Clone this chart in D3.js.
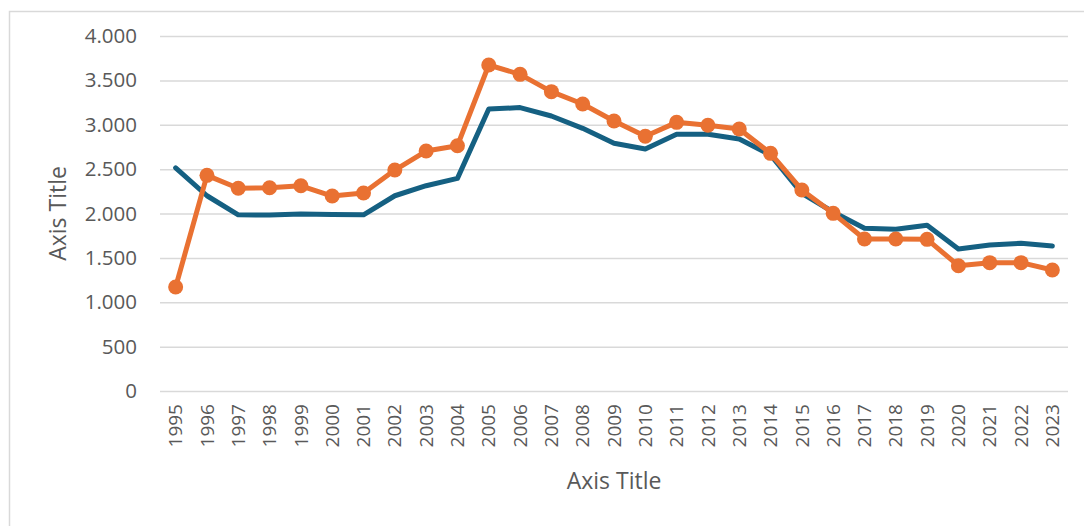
<!DOCTYPE html>
<html>
<head>
<meta charset="utf-8">
<script src="https://cdn.jsdelivr.net/npm/d3@7"></script>
<style>
  body { margin: 0; background: #fff; }
  .chart text { font-family: "Open Sans", sans-serif; fill: #595959; }
</style>
</head>
<body>
<div class="chart"></div>
<script>
// Data
var years = ["1995","1996","1997","1998","1999","2000","2001","2002","2003","2004",
             "2005","2006","2007","2008","2009","2010","2011","2012","2013","2014",
             "2015","2016","2017","2018","2019","2020","2021","2022","2023"];

var blueValues = [2515, 2200, 1985, 1983, 1995, 1990, 1985, 2200, 2313, 2396,
                  3177, 3193, 3099, 2960, 2791, 2727, 2892, 2892, 2839, 2660,
                  2227, 2017, 1833, 1822, 1867, 1600, 1645, 1664, 1634];

var orangeValues = [1172, 2430, 2284, 2290, 2312, 2197, 2231, 2490, 2704, 2764,
                    3673, 3568, 3373, 3234, 3042, 2870, 3027, 2994, 2952, 2678,
                    2265, 2002, 1713, 1713, 1709, 1412, 1446, 1446, 1363];

var yTicks = [0, 500, 1000, 1500, 2000, 2500, 3000, 3500, 4000];

var svgWidth = 1084;
var svgHeight = 526;

var margin = {top: 36, right: 16, bottom: 135, left: 160};
var width = svgWidth - margin.left - margin.right;
var height = svgHeight - margin.top - margin.bottom;

var svg = d3.select(".chart")
    .append("svg")
    .attr("width", svgWidth)
    .attr("height", svgHeight);

// chart border
svg.append("rect")
    .attr("x", 9.5)
    .attr("y", 11.5)
    .attr("width", svgWidth + 20)
    .attr("height", svgHeight + 20)
    .attr("fill", "none")
    .attr("stroke", "#d9d9d9")
    .attr("stroke-width", 1.5);

var chart = svg.append("g")
    .attr("transform", "translate(" + margin.left + "," + margin.top + ")");

var xScale = d3.scaleBand()
    .domain(years)
    .range([0, width]);

var yScale = d3.scaleLinear()
    .domain([0, 4000])
    .range([height, 0]);

var fmt = d3.formatLocale({decimal: ",", thousands: ".", grouping: [3], currency: ["", ""]}).format(",d");

// y axis with gridlines
var leftAxis = d3.axisLeft(yScale)
    .tickValues(yTicks)
    .tickSize(-width)
    .tickPadding(23)
    .tickFormat(fmt);

var yAxis = chart.append("g").call(leftAxis);
yAxis.select(".domain").remove();
yAxis.selectAll("line")
    .attr("stroke", "#d9d9d9")
    .attr("stroke-width", 1.5);
yAxis.selectAll("text")
    .style("font-size", "20.5px");

// x axis labels, rotated
var bottomAxis = d3.axisBottom(xScale).tickSize(0).tickPadding(0);
var xAxis = chart.append("g")
    .attr("transform", "translate(0," + height + ")")
    .call(bottomAxis);
xAxis.select(".domain").remove();
xAxis.selectAll("text")
    .style("font-size", "19px")
    .attr("text-anchor", "end")
    .attr("transform", "rotate(-90)")
    .attr("x", -13)
    .attr("y", 0)
    .attr("dy", "0.35em");

// axis titles
chart.append("text")
    .attr("x", width / 2)
    .attr("y", height + 98)
    .attr("text-anchor", "middle")
    .style("font-size", "23px")
    .text("Axis Title");

chart.append("text")
    .attr("transform", "rotate(-90)")
    .attr("x", -height / 2)
    .attr("y", -94)
    .attr("text-anchor", "middle")
    .style("font-size", "23px")
    .text("Axis Title");

var xPos = function(i) { return xScale(years[i]) + xScale.bandwidth() / 2; };

var line = d3.line()
    .x(function(d, i) { return xPos(i); })
    .y(function(d) { return yScale(d); });

chart.append("path")
    .datum(blueValues)
    .attr("fill", "none")
    .attr("stroke", "#156082")
    .attr("stroke-width", 5)
    .attr("stroke-linejoin", "round")
    .attr("stroke-linecap", "round")
    .attr("d", line);

chart.append("path")
    .datum(orangeValues)
    .attr("fill", "none")
    .attr("stroke", "#E97132")
    .attr("stroke-width", 5)
    .attr("stroke-linejoin", "round")
    .attr("stroke-linecap", "round")
    .attr("d", line);

chart.selectAll(".dot")
    .data(orangeValues)
    .enter()
    .append("circle")
    .attr("class", "dot")
    .attr("cx", function(d, i) { return xPos(i); })
    .attr("cy", function(d) { return yScale(d); })
    .attr("r", 7.5)
    .attr("fill", "#E97132");
</script>
</body>
</html>
